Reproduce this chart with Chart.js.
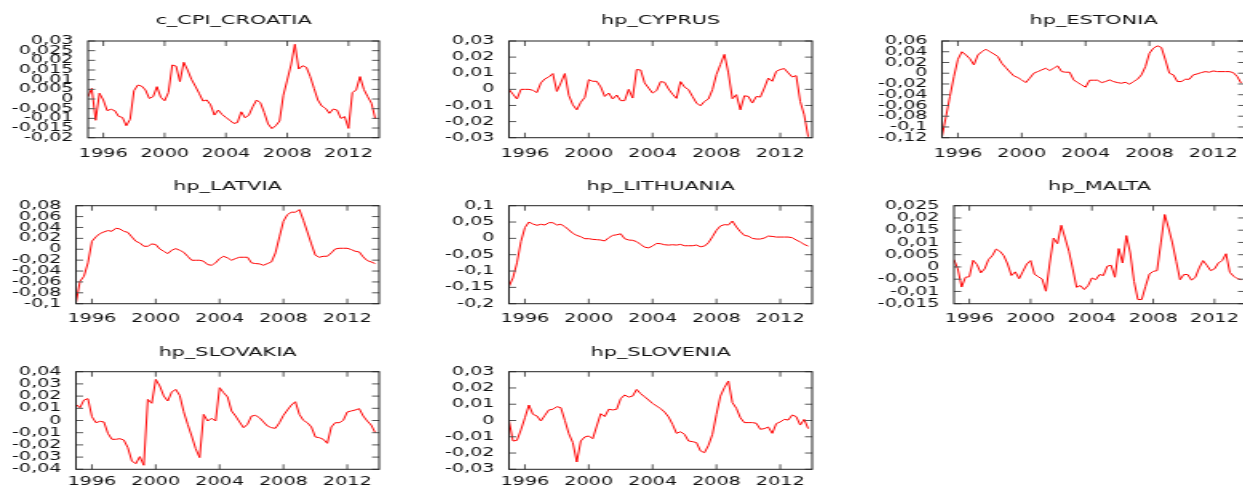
<!DOCTYPE html>
<html>
<head>
<meta charset="utf-8">
<script src="https://cdn.jsdelivr.net/npm/chart.js@4.4.1/dist/chart.umd.min.js"></script>
<style>
  html, body { margin: 0; padding: 0; background: #fff; }
  body { width: 1243px; height: 489px; overflow: hidden; position: relative; }
  /* gretl output is stretched sideways, so draw narrow and stretch */
  .panel { position: absolute; width: 271px; height: 163px; transform: scaleX(1.6); transform-origin: 0 0; }
</style>
</head>
<body>
<div id="grid"></div>
<script>
// quarterly data, 1995:1 - 2013:4
const years = [1995, 1996, 1997, 1998, 1999, 2000, 2001, 2002, 2003, 2004, 2005, 2006, 2007, 2008, 2009, 2010, 2011, 2012, 2013];
const xTicks = [1996, 2000, 2004, 2008, 2012];

const croatia = [0.0012, 0.0055, -0.011, 0.003, -0.0005, -0.006, -0.0053, -0.006, -0.009, -0.0095,
  -0.0138, -0.0105, 0.0043, 0.0072, 0.0067, 0.0047, 0.0003, 0.0012, 0.0064, 0.0009,
  -0.0009, 0.0034, 0.0176, 0.017, 0.009, 0.019, 0.015, 0.0102, 0.0067, 0.003,
  -0.001, -0.0005, -0.003, -0.0083, -0.0057, -0.008, -0.0095, -0.011, -0.0126, -0.0122,
  -0.0066, -0.0097, -0.0083, -0.004, -0.0005, -0.0019, -0.007, -0.0129, -0.0153, -0.0138,
  -0.0114, 0.002, 0.0098, 0.0176, 0.0283, 0.0155, 0.0172, 0.0164, 0.0116, 0.0055,
  -0.0005, -0.0036, -0.0048, -0.0074, -0.0052, -0.0057, -0.01, -0.0091, -0.0152, 0.0033,
  0.0047, 0.0116, 0.005, 0.0012, -0.0022, -0.0103];
const cyprus = [0, -0.003, -0.006, 0, 0, 0, -0.0006, -0.002, 0.004, 0.0065,
  0.0077, 0.0098, -0.0013, 0.004, 0.0098, -0.0037, -0.0096, -0.0127, -0.008, -0.005,
  0.006, 0.005, 0.005, 0.0015, -0.0044, -0.0023, -0.006, -0.0035, -0.007, -0.007,
  0, -0.0054, 0.0123, 0.012, 0.004, 0.0008, -0.0023, -0.0008, 0.0048, 0.0044,
  0.0002, -0.003, -0.0056, 0.0048, 0.0015, -0.0002, -0.0044, -0.0085, -0.0102, -0.0075,
  -0.006, -0.0002, 0.0092, 0.0154, 0.0217, 0.0102, -0.0058, -0.0033, -0.0127, -0.004,
  -0.0044, -0.0085, -0.0044, -0.0048, 0.0008, 0.007, 0.005, 0.0112, 0.0123, 0.0129,
  0.0102, 0.0077, 0.0085, -0.0075, -0.0158, -0.0294];
const estonia = [-0.118, -0.081, -0.043, -0.006, 0.026, 0.040, 0.034, 0.027, 0.0155, 0.034,
  0.040, 0.0447, 0.040, 0.036, 0.031, 0.0186, 0.0105, 0.0025, -0.005, -0.008,
  -0.0124, -0.0174, -0.0093, 0, 0.003, 0.0062, 0.0093, 0.005, 0.0093, 0.0137,
  0.003, 0.0019, 0.0019, -0.0124, -0.0174, -0.0217, -0.026, -0.013, -0.013, -0.013,
  -0.0174, -0.0155, -0.0124, -0.0155, -0.0174, -0.0186, -0.0168, -0.0205, -0.0155, -0.0112,
  -0.0031, 0.0124, 0.0372, 0.0466, 0.051, 0.048, 0.0248, 0, -0.003, -0.0155,
  -0.0155, -0.0112, -0.0112, -0.003, -0.0012, 0.0012, 0.003, 0.0019, 0.0043, 0.003,
  0.003, 0.003, 0.003, 0.0012, -0.006, -0.0186];
const latvia = [-0.0986, -0.059, -0.0496, -0.025, 0.0147, 0.0227, 0.0288, 0.0318, 0.0343, 0.033,
  0.0386, 0.0373, 0.033, 0.031, 0.0227, 0.0147, 0.0116, 0.0055, 0.0055, 0.0098,
  0.0086, 0.0006, -0.0037, -0.008, -0.0018, 0.0012, -0.0018, -0.0055, -0.0129, -0.0202,
  -0.0202, -0.0202, -0.022, -0.0282, -0.0294, -0.025, -0.0171, -0.0129, -0.0159, -0.0202,
  -0.0171, -0.0147, -0.0147, -0.0147, -0.025, -0.0263, -0.0269, -0.0294, -0.0263, -0.0233,
  -0.0067, 0.0227, 0.0514, 0.0637, 0.068, 0.068, 0.0729, 0.0533, 0.0318, 0.0098,
  -0.011, -0.0147, -0.0129, -0.0129, -0.0067, 0.0006, 0.0018, 0.0018, 0.0018, -0.0006,
  -0.0037, -0.0049, -0.0141, -0.0208, -0.0233, -0.0263];
const lithuania = [-0.147, -0.121, -0.075, -0.01, 0.033, 0.050, 0.044, 0.040, 0.043, 0.041,
  0.048, 0.048, 0.041, 0.043, 0.036, 0.026, 0.0154, 0.0092, 0.005, -0.001,
  -0.001, -0.003, -0.004, -0.005, -0.008, 0.002, 0.009, 0.011, 0.014, -0.001,
  -0.005, -0.006, -0.01, -0.0185, -0.027, -0.029, -0.0236, -0.0154, -0.0164, -0.0195,
  -0.0205, -0.0195, -0.0205, -0.0185, -0.0226, -0.0226, -0.0226, -0.0205, -0.0257, -0.0236,
  -0.0134, 0.005, 0.0247, 0.038, 0.042, 0.041, 0.053, 0.035, 0.0206, 0.009,
  0.007, 0, -0.002, -0.002, 0.001, 0.007, 0.006, 0.004, 0.004, 0.004,
  0.004, 0.002, -0.005, -0.011, -0.0185, -0.0236];
const malta = [0.003, -0.0008, -0.0082, -0.0042, -0.004, 0.0027, 0.001, -0.0024, -0.0008, 0.003,
  0.0046, 0.0073, 0.0064, 0.0046, 0.0012, -0.0035, -0.002, -0.0048, -0.0018, 0.0012,
  0.0026, -0.0029, -0.004, -0.0049, -0.0099, 0.0016, 0.0118, 0.0095, 0.017, 0.0118,
  0.0064, -0.0008, -0.0083, -0.0076, -0.0092, -0.0076, -0.0045, -0.0052, -0.0031, -0.0035,
  0.0003, 0.0007, -0.0042, 0.0075, 0.0016, 0.0128, 0.0057, -0.0059, -0.0133, -0.0133,
  -0.0079, -0.0029, -0.0018, -0.0015, 0.0098, 0.0214, 0.0159, 0.0098, 0.0023, -0.0052,
  -0.0031, -0.0031, -0.0054, -0.0042, -0.0004, 0.0026, 0.0007, -0.0015, -0.0008, 0.0016,
  0.0026, 0.0054, -0.0022, -0.0038, -0.0048, -0.0052];
const slovakia = [0.0132, 0.0105, 0.0168, 0.0179, 0.0031, -0.0018, -0.0007, -0.0012, -0.0105, -0.0154,
  -0.0154, -0.0149, -0.016, -0.0223, -0.0332, -0.0354, -0.0296, -0.0367, 0.0173, 0.0141,
  0.0337, 0.0283, 0.0201, 0.016, 0.0233, 0.0255, 0.0206, 0.0072, -0.0031, -0.0127,
  -0.0231, -0.0304, 0.005, -0.0004, 0.0018, -0.0004, 0.0269, 0.0228, 0.0193, 0.0078,
  0.0037, -0.0012, -0.0059, -0.0031, 0.0037, 0.0042, 0.0023, -0.0012, -0.0045, -0.0059,
  -0.0064, -0.0018, 0.0042, 0.0086, 0.0127, 0.0154, 0.005, 0.0001, -0.0018, -0.0053,
  -0.0135, -0.0141, -0.0154, -0.0187, -0.0053, -0.0018, -0.0018, 0.0001, 0.007, 0.0078,
  0.0086, 0.0097, 0.0037, -0.0004, -0.0037, -0.01];
const slovenia = [0, -0.0126, -0.0122, -0.0058, 0.0017, 0.0095, 0.0038, 0.0028, -0.0003, 0.0032,
  0.0065, 0.0069, 0.0085, 0.0079, 0.0001, -0.0081, -0.0136, -0.0255, -0.0126, -0.0101,
  -0.0095, -0.0112, -0.0034, 0.0042, 0.0024, 0.0069, 0.0065, 0.0069, 0.0134, 0.0157,
  0.0144, 0.015, 0.0191, 0.0165, 0.0146, 0.0126, 0.0105, 0.0089, 0.0073, 0.0052,
  0.0022, -0.0024, -0.0079, -0.0069, -0.0085, -0.0126, -0.013, -0.0136, -0.0187, -0.0198,
  -0.0153, -0.0085, 0.0038, 0.015, 0.0202, 0.0243, 0.011, 0.0075, 0.0017, -0.0013,
  -0.0013, -0.0013, -0.0017, -0.0054, -0.005, -0.004, -0.0079, -0.0019, -0.0009, 0.0007,
  0.0003, 0.0034, 0.0024, -0.0028, 0.0007, -0.005];

// y tick labels for each panel
const croatiaTicks = [-0.02, -0.015, -0.01, -0.005, 0, 0.005, 0.01, 0.015, 0.02, 0.025, 0.03];
const cyprusTicks = [-0.03, -0.02, -0.01, 0, 0.01, 0.02, 0.03];
const estoniaTicks = [-0.12, -0.1, -0.08, -0.06, -0.04, -0.02, 0, 0.02, 0.04, 0.06];
const latviaTicks = [-0.1, -0.08, -0.06, -0.04, -0.02, 0, 0.02, 0.04, 0.06, 0.08];
const lithuaniaTicks = [-0.2, -0.15, -0.1, -0.05, 0, 0.05, 0.1];
const maltaTicks = [-0.015, -0.01, -0.005, 0, 0.005, 0.01, 0.015, 0.02, 0.025];
const slovakiaTicks = [-0.04, -0.03, -0.02, -0.01, 0, 0.01, 0.02, 0.03, 0.04];
const sloveniaTicks = [-0.03, -0.02, -0.01, 0, 0.01, 0.02, 0.03];

// x position of each quarter
const quarterX = [];
years.forEach(yr => { for (let q = 0; q < 4; q++) quarterX.push(yr + q / 4); });

const panels = [
  { title: 'c_CPI_CROATIA', values: croatia, ticks: croatiaTicks, col: 0, row: 0, left: 55 },
  { title: 'hp_CYPRUS', values: cyprus, ticks: cyprusTicks, col: 1, row: 0, left: 47.5 },
  { title: 'hp_ESTONIA', values: estonia, ticks: estoniaTicks, col: 2, row: 0, left: 47.5 },
  { title: 'hp_LATVIA', values: latvia, ticks: latviaTicks, col: 0, row: 1, left: 47.5 },
  { title: 'hp_LITHUANIA', values: lithuania, ticks: lithuaniaTicks, col: 1, row: 1, left: 47.5 },
  { title: 'hp_MALTA', values: malta, ticks: maltaTicks, col: 2, row: 1, left: 55 },
  { title: 'hp_SLOVAKIA', values: slovakia, ticks: slovakiaTicks, col: 0, row: 2, left: 47.5 },
  { title: 'hp_SLOVENIA', values: slovenia, ticks: sloveniaTicks, col: 1, row: 2, left: 47.5 }
];

// per-row layout (canvas px)
const rowTop = [0, 163, 326];
const colLeft = [0, 433, 866];
const padTop = [13.2, 16, 18.4];
const titleGap = [12.2, 11.1, 11.7];
const xAxisH = [25.3, 22.3, 19.7];
const xPad = [8.9, 7.8, 5.2];

const font = { family: 'DejaVu Sans', size: 12 };
const textColor = '#111';

// box round the plot with inward tics on all four sides
const framePlugin = {
  id: 'frame',
  afterDatasetsDraw(chart) {
    const { ctx, chartArea: a } = chart;
    const x = chart.scales.x, y = chart.scales.y;
    ctx.save();
    ctx.lineWidth = 1;
    ctx.strokeStyle = '#555';
    ctx.beginPath();
    x.ticks.forEach(t => {
      const px = x.getPixelForValue(t.value);
      ctx.moveTo(px, a.bottom); ctx.lineTo(px, a.bottom - 5);
      ctx.moveTo(px, a.top); ctx.lineTo(px, a.top + 5);
    });
    y.ticks.forEach(t => {
      const py = y.getPixelForValue(t.value);
      ctx.moveTo(a.left, py); ctx.lineTo(a.left + 4.5, py);
      ctx.moveTo(a.right, py); ctx.lineTo(a.right - 4.5, py);
    });
    ctx.stroke();
    ctx.strokeStyle = '#222';
    ctx.strokeRect(a.left, a.top, a.right - a.left, a.bottom - a.top);
    ctx.restore();
  }
};

const grid = document.getElementById('grid');
panels.forEach((p, i) => {
  const div = document.createElement('div');
  div.className = 'panel';
  div.style.left = colLeft[p.col] + 'px';
  div.style.top = rowTop[p.row] + 'px';
  const canvas = document.createElement('canvas');
  canvas.width = 271;
  canvas.height = 163;
  div.appendChild(canvas);
  grid.appendChild(div);

  const r = p.row;
  new Chart(canvas, {
    type: 'line',
    data: {
      datasets: [{
        data: p.values.map((v, k) => ({ x: quarterX[k], y: v })),
        borderColor: '#ff0000',
        borderWidth: 1,
        pointRadius: 0,
        tension: 0,
        fill: false
      }]
    },
    options: {
      responsive: false,
      animation: false,
      devicePixelRatio: 1,
      layout: { padding: { top: padTop[r], right: 34, bottom: 0, left: 0 } },
      plugins: {
        legend: { display: false },
        tooltip: { enabled: false },
        title: {
          display: true,
          text: p.title,
          fullSize: false,
          color: textColor,
          font: { family: 'DejaVu Sans', size: 13, weight: 'normal' },
          padding: { top: 0, bottom: titleGap[r] }
        }
      },
      scales: {
        x: {
          type: 'linear',
          min: 1995,
          max: 2014,
          grid: { display: false, drawTicks: false },
          border: { display: false },
          afterBuildTicks: s => { s.ticks = xTicks.map(v => ({ value: v })); },
          afterFit: s => { s.height = xAxisH[r]; },
          ticks: {
            autoSkip: false,
            maxRotation: 0,
            padding: xPad[r],
            font: font,
            color: textColor,
            callback: v => String(v)
          }
        },
        y: {
          type: 'linear',
          min: p.ticks[0],
          max: p.ticks[p.ticks.length - 1],
          grid: { display: false, drawTicks: false },
          border: { display: false },
          afterBuildTicks: s => { s.ticks = p.ticks.map(v => ({ value: v })); },
          afterFit: s => { s.width = p.left; },
          ticks: {
            autoSkip: false,
            padding: 9,
            font: font,
            color: textColor,
            callback: v => String(v).replace('.', ',')
          }
        }
      }
    },
    plugins: [framePlugin]
  });
});
</script>
</body>
</html>
